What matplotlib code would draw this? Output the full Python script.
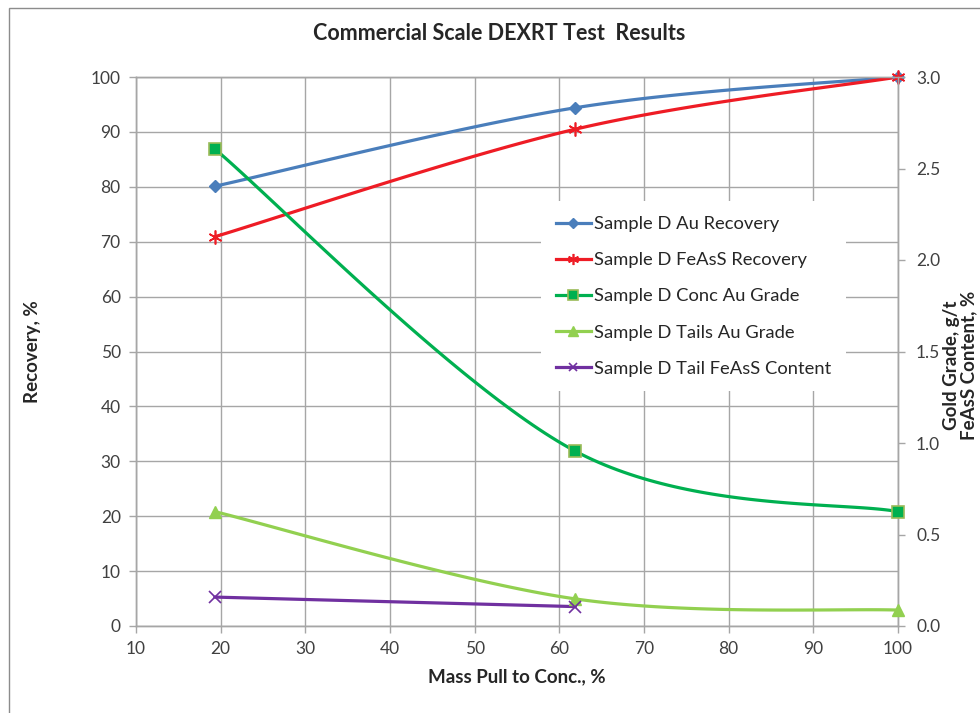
import numpy as np
import matplotlib
matplotlib.use('Agg')
import matplotlib.pyplot as plt
from matplotlib.patches import Rectangle

# Data
mass_pull = [19.3, 61.9, 100.0]
au_recovery = [80.1, 94.4, 100.0]
feass_recovery = [70.9, 90.5, 100.0]
conc_au_grade = [2.607, 0.955, 0.625]
tails_au_grade = [0.625, 0.148, 0.087]
tail_feass_x = [19.3, 61.9]
tail_feass = [0.158, 0.106]

x_ticks = [10, 20, 30, 40, 50, 60, 70, 80, 90, 100]
left_ticks = [0, 10, 20, 30, 40, 50, 60, 70, 80, 90, 100]
right_ticks = [0.0, 0.5, 1.0, 1.5, 2.0, 2.5, 3.0]

plt.rcParams['font.family'] = ['Lato', 'DejaVu Sans']


def smooth(xs, ys, n=60):
    # Excel-like smoothed line: cubic Bezier with Catmull-Rom control points
    p = np.column_stack([xs, ys]).astype(float)
    pts = np.vstack([p[0], p, p[-1]])
    out = []
    for i in range(1, len(pts) - 2):
        p0, p1, p2, p3 = pts[i - 1], pts[i], pts[i + 1], pts[i + 2]
        c1 = p1 + (p2 - p0) / 6.0
        c2 = p2 - (p3 - p1) / 6.0
        t = np.linspace(0, 1, n)[:, None]
        seg = ((1 - t) ** 3) * p1 + 3 * ((1 - t) ** 2) * t * c1 + 3 * (1 - t) * t ** 2 * c2 + t ** 3 * p2
        out.append(seg)
    out = np.vstack(out)
    return out[:, 0], out[:, 1]


fig = plt.figure(figsize=(9.8, 7.13), dpi=100)
ax = fig.add_axes([136 / 980, 1 - 626 / 713, 762 / 980, 549 / 713])
ax2 = ax.twinx()

grid_c = '#a6a6a6'
text_c = '#404040'

# Series styles
s_au = dict(color='#4a7ebb', marker='D', ms=6.5, label='Sample D Au Recovery')
s_fe = dict(color='#ee1c25', marker=(6, 2, 0), ms=10, mew=1.2, label='Sample D FeAsS Recovery')
s_cg = dict(color='#00b050', marker='s', ms=9, mfc='#00b050', mec='#9bbb59', mew=1.2, label='Sample D Conc Au Grade')
s_tg = dict(color='#92d050', marker='^', ms=9, label='Sample D Tails Au Grade')
s_tf = dict(color='#7030a0', marker='x', ms=8, mew=1.2, label='Sample D Tail FeAsS Content')

lw = 2.3
handles = []
for axis, xs, ys, st in [(ax, mass_pull, au_recovery, s_au),
                         (ax, mass_pull, feass_recovery, s_fe),
                         (ax2, mass_pull, conc_au_grade, s_cg),
                         (ax2, mass_pull, tails_au_grade, s_tg),
                         (ax2, tail_feass_x, tail_feass, s_tf)]:
    sx, sy = smooth(xs, ys)
    axis.plot(sx, sy, color=st['color'], lw=lw, solid_capstyle='round', zorder=3)
    mk = {k: v for k, v in st.items() if k not in ('label',)}
    axis.plot(xs, ys, ls='none', zorder=4, clip_on=False, **mk)
    h, = axis.plot([], [], lw=lw, **st)
    handles.append(h)

ax.set_xlim(10, 100)
ax.set_ylim(0, 100)
ax2.set_ylim(0, 3)
ax.set_xticks(x_ticks)
ax.set_yticks(left_ticks)
ax2.set_yticks(right_ticks)
ax2.set_yticklabels(['%.1f' % v for v in right_ticks])

ax.grid(True, color=grid_c, lw=1.0)
ax.set_axisbelow(True)
for a in (ax, ax2):
    for sp in a.spines.values():
        sp.set_color(grid_c)
        sp.set_linewidth(1.0)
    a.tick_params(colors=grid_c, labelcolor=text_c, labelsize=12.5, length=5, width=1.0)
ax.tick_params(axis='x', pad=6)
ax.tick_params(axis='y', pad=6)
ax2.tick_params(axis='y', pad=8)

lab_fs = 13.5
ax.set_xlabel('Mass Pull to Conc., %', fontsize=lab_fs, fontweight='bold', color='#262626', labelpad=8)
ax.set_ylabel('Recovery, %', fontsize=lab_fs, fontweight='bold', color='#262626')
ax.yaxis.set_label_coords(-0.125, 0.5)

fig.text(960 / 980, 1 - 365 / 713, 'Gold Grade, g/t\nFeAsS Content, %', rotation=90,
         ha='center', va='center', multialignment='center', linespacing=1.0,
         fontsize=lab_fs, fontweight='bold', color='#262626')

fig.text(499 / 980, 1 - 33 / 713, 'Commercial Scale DEXRT Test  Results',
         ha='center', va='center', fontsize=15.5, fontweight='bold', color='#262626')

leg = ax2.legend(handles=handles, loc='upper left', bbox_to_anchor=(0.52, 0.79),
                 frameon=True, fontsize=13.2, handlelength=1.9, handletextpad=0.15,
                 labelspacing=1.1, borderpad=0.8, labelcolor='#262626', markerscale=0.8)
leg.get_frame().set_facecolor('white')
leg.get_frame().set_edgecolor('none')
leg.get_frame().set_alpha(1.0)

# chart area border (cropped on right and bottom)
fig.patches.append(Rectangle((9 / 980, -0.2), 1.5, 0.2 + 1 - 8 / 713, transform=fig.transFigure,
                             fill=False, edgecolor='#8c8c8c', lw=1.0))

fig.savefig('out.png', dpi=100)
